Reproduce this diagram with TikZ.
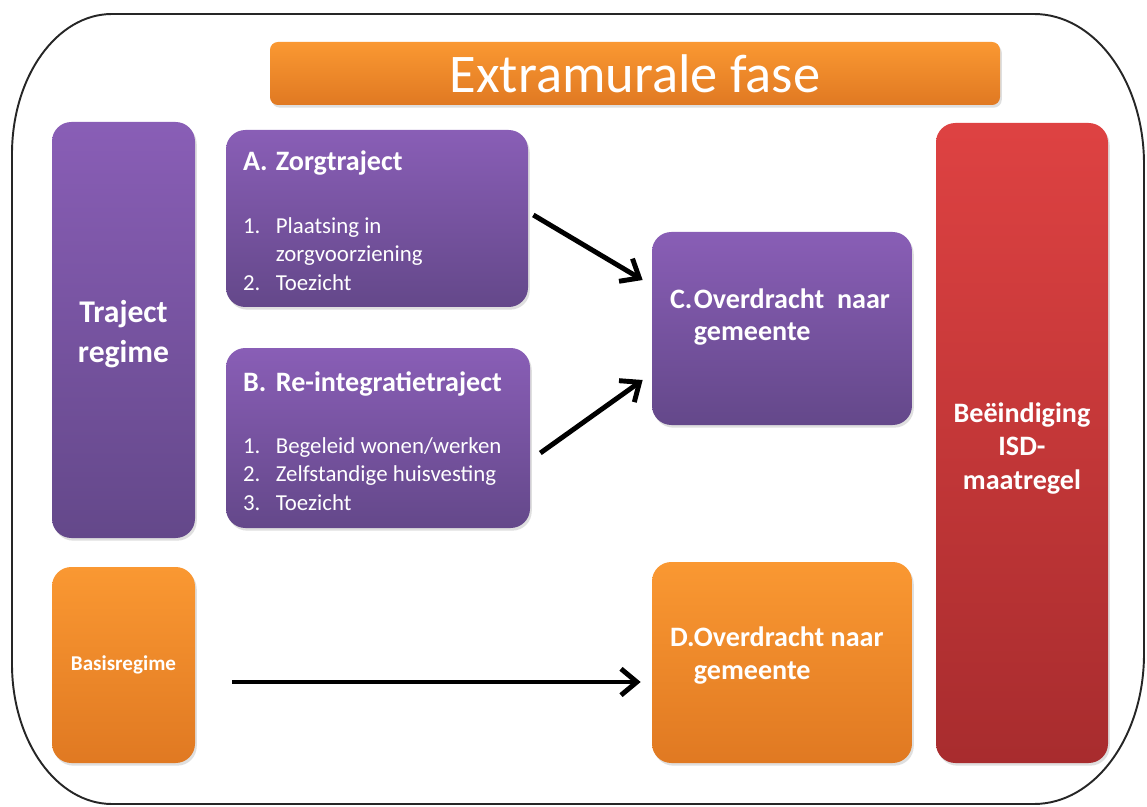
\documentclass[tikz,border=0pt]{standalone}
\usepackage{fontspec}
\setmainfont{Carlito}
\usetikzlibrary{calc,arrows.meta,shadows}
\definecolor{PurpleTop}{RGB}{137,94,182}
\definecolor{PurpleBottom}{RGB}{100,72,138}
\definecolor{OrangeTop}{RGB}{250,152,50}
\definecolor{OrangeBottom}{RGB}{224,121,34}
\definecolor{RedTop}{RGB}{222,66,66}
\definecolor{RedBottom}{RGB}{168,44,46}
\newcommand{\listNr}[2][18.7pt]{\makebox[#1][l]{#2}}
\tikzset{
  phaseBox/.style={rounded corners=11pt, inner sep=0pt, text=white,
    drop shadow={opacity=0.25, shadow xshift=1pt, shadow yshift=-1.5pt}},
  purpleBox/.style={phaseBox, top color=PurpleTop, bottom color=PurpleBottom},
  orangeBox/.style={phaseBox, top color=OrangeTop, bottom color=OrangeBottom},
  redBox/.style={phaseBox, top color=RedTop, bottom color=RedBottom},
  boxTitle/.style={anchor=west, inner sep=0pt, text=white, font=\fontsize{16}{19}\selectfont\bfseries},
  boxList/.style={anchor=north west, inner sep=0pt, text=white, align=left, font=\fontsize{13}{16}\selectfont},
  arrowLine/.style={line width=2.8pt, -{Straight Barb[length=9pt, width=15pt]}},
  frameLine/.style={line width=1.1pt, black!85}
}

\begin{document}
\begin{tikzpicture}[x=0.02cm, y=0.02cm]

    \def\px{0.02cm}
    \useasboundingbox (0,0) rectangle (1147,806);

    % ---------- Kader
    \draw[frameLine] (112,792) -- (1034,792)
    arc[start angle=90, end angle=0, x radius=110, y radius=150] -- (1144,152)
    arc[start angle=0, end angle=-90, x radius=110, y radius=150] -- (112,2)
    arc[start angle=270, end angle=180, x radius=100, y radius=140] -- (12,652)
    arc[start angle=180, end angle=90, x radius=100, y radius=140] -- cycle;

    % ---------- Titel
    \node[orangeBox, rounded corners=4.5pt, minimum width=730*\px, minimum height=63*\px,
      font=\fontsize{31}{37}\selectfont] (titleBar) at (635,732.5) {Extramurale fase};

    % ---------- Regimes
    \node[purpleBox, minimum width=143*\px, minimum height=416*\px] (trajectRegime) at (123.5,476) {};
    \node[text=white, align=center, font=\fontsize{18}{23}\selectfont\bfseries]
      (trajectText) at ($(trajectRegime.center)+(0,-4)$) {Traject\\regime};
    \node[orangeBox, minimum width=143*\px, minimum height=196*\px,
      font=\fontsize{12}{14}\selectfont\bfseries] (basisRegime) at (123.5,141) {Basisregime};

    % ---------- Trajecten
    \node[purpleBox, minimum width=302*\px, minimum height=177*\px] (zorgTraject) at (377,587.5) {};
    \node[boxTitle] (zorgTitle) at ($(zorgTraject.north west)+(17,-33)$) {\listNr{A.}Zorgtraject};
    \node[boxList] (zorgList) at ($(zorgTraject.north west)+(17,-88)$)
      {\listNr{1.}Plaatsing in\\\listNr{}zorgvoorziening\\\listNr{2.}Toezicht};

    \node[purpleBox, minimum width=304*\px, minimum height=180*\px] (reintTraject) at (378,368) {};
    \node[boxTitle] (reintTitle) at ($(reintTraject.north west)+(17,-36)$) {\listNr{B.}Re-integratietraject};
    \node[boxList] (reintList) at ($(reintTraject.north west)+(17,-90)$)
      {\listNr{1.}Begeleid wonen/werken\\\listNr{2.}Zelfstandige huisvesting\\\listNr{3.}Toezicht};

    % ---------- Overdracht
    \node[purpleBox, minimum width=260*\px, minimum height=193*\px] (overdrachtC) at (782,477.5) {};
    \node[boxTitle, anchor=north west, align=left, font=\fontsize{16}{18}\selectfont\bfseries]
      (overdrachtCText) at ($(overdrachtC.north west)+(18,-57)$)
      {\listNr[13.6pt]{C.}Overdracht\ \ naar\\\listNr[13.6pt]{}gemeente};

    \node[orangeBox, minimum width=260*\px, minimum height=201*\px] (overdrachtD) at (782,143.5) {};
    \node[boxTitle, anchor=north west, align=left, font=\fontsize{16}{18.5}\selectfont\bfseries]
      (overdrachtDText) at ($(overdrachtD.north west)+(18,-65)$)
      {\listNr[13.6pt]{D.}Overdracht naar\\\listNr[13.6pt]{}gemeente};

    % ---------- Einde
    \node[redBox, minimum width=172*\px, minimum height=640*\px] (beeindiging) at (1022,363) {};
    \node[text=white, align=center, font=\fontsize{16}{19.3}\selectfont\bfseries]
      (beeindigingText) at ($(beeindiging.center)+(0,-5.5)$) {Beëindiging\\ISD-\\maatregel};

    % Show arrows
    \draw[arrowLine] ($(zorgTraject.east)+(5,3.5)$) -- ($(overdrachtC.west)+(-9,48.5)$);
    \draw[arrowLine] ($(reintTraject.east)+(10,-15)$) -- ($(overdrachtC.west)+(-9,-51.5)$);
    \draw[arrowLine] ($(basisRegime.east)+(37,-17)$) -- ($(overdrachtD.west)+(-11,-19.5)$);

\end{tikzpicture}
\end{document}
